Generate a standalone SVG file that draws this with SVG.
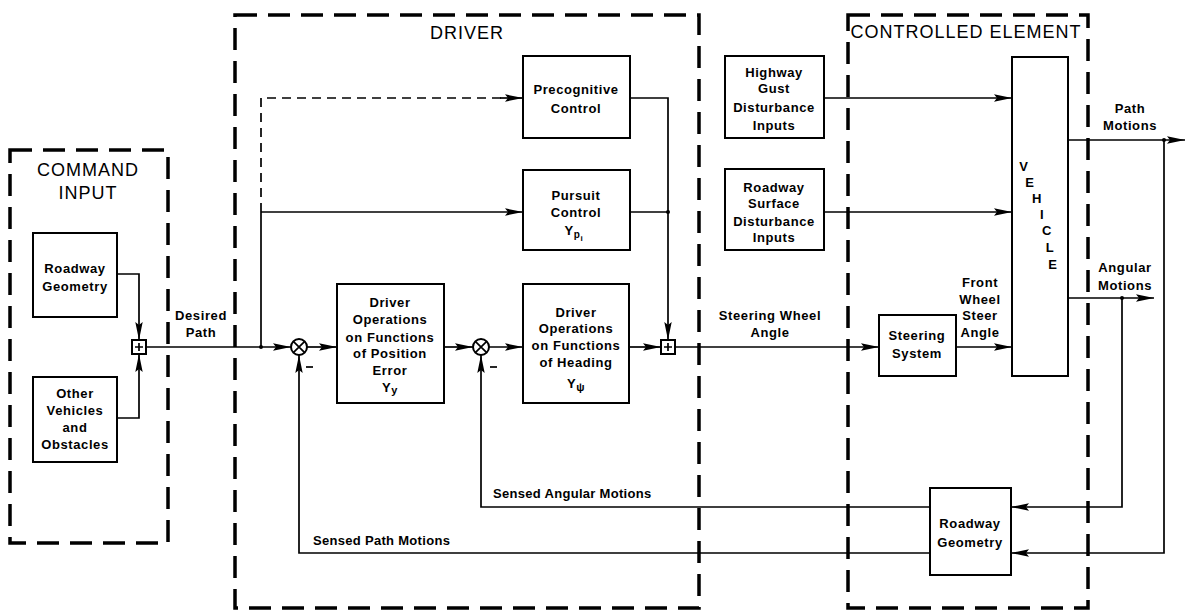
<svg xmlns="http://www.w3.org/2000/svg" width="1186" height="610" viewBox="0 0 1186 610">
<defs>
<marker id="arr" markerUnits="userSpaceOnUse" markerWidth="20" markerHeight="10" refX="18" refY="4.5" orient="auto">
<path d="M0,0.8 L18,4.5 L0,8.2 L3,4.5 z" fill="#000"/>
</marker>
<style>
.bg{fill:#fff}
.box{fill:#fff;stroke:#000;stroke-width:2}
.zone{fill:none;stroke:#000;stroke-width:3.5;stroke-dasharray:22 11}
.ln{fill:none;stroke:#000;stroke-width:1.7}
.dl{fill:none;stroke:#000;stroke-width:1.7;stroke-dasharray:9 6}
.ar{marker-end:url(#arr)}
text{font-family:"Liberation Sans",Arial,sans-serif;font-weight:bold;font-size:13px;letter-spacing:0.6px;fill:#000;text-anchor:middle}
.hd{font-size:18px;font-weight:normal;letter-spacing:1px}
.lt{text-anchor:start;letter-spacing:0.3px}
.dot{fill:#000}
</style>
</defs>
<rect class="bg" x="0" y="0" width="1186" height="610"/>

<g id="zones">
<rect class="zone" x="10" y="150" width="158" height="393"/>
<rect class="zone" x="235" y="15" width="464" height="593"/>
<rect class="zone" x="848" y="15" width="240" height="593"/>
<text class="hd" x="88" y="176">COMMAND</text>
<text class="hd" x="88" y="199">INPUT</text>
<text class="hd" x="467" y="39">DRIVER</text>
<text class="hd" x="966" y="38">CONTROLLED ELEMENT</text>
</g>

<g id="connectors">
<polyline class="ln ar" points="117,274 139,274 139,340"/>
<polyline class="ln ar" points="117,418 139,418 139,354"/>
<line class="ln ar" x1="146" y1="347" x2="291" y2="347"/>
<circle class="dot" cx="261" cy="347" r="2"/>
<polyline class="ln" points="261,347 261,212"/>
<line class="ln ar" x1="261" y1="212" x2="523" y2="212"/>
<polyline class="dl" points="261,212 261,98 505,98"/>
<line class="ln ar" x1="500" y1="98" x2="523" y2="98"/>
<line class="ln ar" x1="307" y1="347" x2="337" y2="347"/>
<line class="ln ar" x1="444" y1="347" x2="473" y2="347"/>
<line class="ln ar" x1="489" y1="347" x2="523" y2="347"/>
<line class="ln ar" x1="629" y1="347" x2="661" y2="347"/>
<polyline class="ln" points="630,98 668,98 668,212"/>
<line class="ln" x1="630" y1="212" x2="668" y2="212"/>
<line class="ln ar" x1="668" y1="212" x2="668" y2="340"/>
<circle class="dot" cx="668" cy="212" r="2"/>
<line class="ln ar" x1="675" y1="347" x2="879" y2="347"/>
<line class="ln ar" x1="956" y1="347" x2="1012" y2="347"/>
<line class="ln ar" x1="824" y1="98" x2="1012" y2="98"/>
<line class="ln ar" x1="824" y1="212" x2="1012" y2="212"/>
<line class="ln ar" x1="1068" y1="140" x2="1185" y2="140"/>
<circle class="dot" cx="1164" cy="140" r="2"/>
<line class="ln ar" x1="1068" y1="298" x2="1154" y2="298"/>
<circle class="dot" cx="1122" cy="298" r="2"/>
<polyline class="ln ar" points="1122,298 1122,507 1011,507"/>
<polyline class="ln ar" points="1164,140 1164,553 1011,553"/>
<polyline class="ln ar" points="930,507 481,507 481,355"/>
<polyline class="ln ar" points="930,553 299,553 299,355"/>
<line class="ln" x1="306" y1="367" x2="313" y2="367"/>
<line class="ln" x1="490" y1="367" x2="497" y2="367"/>
<text class="lt" x="493" y="498">Sensed Angular Motions</text>
<text class="lt" x="313" y="545">Sensed Path Motions</text>
<text x="201" y="320">Desired</text>
<text x="201" y="337">Path</text>
<text x="770" y="320">Steering Wheel</text>
<text x="770" y="337">Angle</text>
<text x="980" y="287">Front</text>
<text x="980" y="304">Wheel</text>
<text x="980" y="320">Steer</text>
<text x="980" y="337">Angle</text>
<text x="1130" y="113">Path</text>
<text x="1130" y="130">Motions</text>
<text x="1125" y="272">Angular</text>
<text x="1125" y="290">Motions</text>
</g>

<g id="sum1">
<rect class="box" x="132" y="340" width="14" height="14"/>
<path class="ln" d="M139,343 V351 M135,347 H143"/>
</g>
<g id="sum2">
<rect class="box" x="661" y="340" width="14" height="14"/>
<path class="ln" d="M668,343 V351 M664,347 H672"/>
</g>
<g id="cmp1">
<circle class="box" cx="299" cy="347" r="8"/>
<path class="ln" d="M293.3,341.3 L304.7,352.7 M304.7,341.3 L293.3,352.7"/>
</g>
<g id="cmp2">
<circle class="box" cx="481" cy="347" r="8"/>
<path class="ln" d="M475.3,341.3 L486.7,352.7 M486.7,341.3 L475.3,352.7"/>
</g>

<g id="roadway-geometry-cmd">
<rect class="box" x="33" y="233" width="84" height="84"/>
<text x="75" y="273">Roadway</text>
<text x="75" y="291">Geometry</text>
</g>
<g id="other-vehicles">
<rect class="box" x="33" y="377" width="84" height="85"/>
<text x="75" y="398">Other</text>
<text x="75" y="415">Vehicles</text>
<text x="75" y="432">and</text>
<text x="75" y="449">Obstacles</text>
</g>
<g id="precognitive">
<rect class="box" x="523" y="56" width="107" height="82"/>
<text x="576" y="94">Precognitive</text>
<text x="576" y="113">Control</text>
</g>
<g id="pursuit">
<rect class="box" x="523" y="170" width="107" height="80"/>
<text x="576" y="200">Pursuit</text>
<text x="576" y="217">Control</text>
<text x="574" y="235">Y<tspan font-size="10" dy="3">p</tspan><tspan font-size="8" dy="3">i</tspan></text>
</g>
<g id="position-error">
<rect class="box" x="337" y="284" width="107" height="119"/>
<text x="390" y="307">Driver</text>
<text x="390" y="324">Operations</text>
<text x="390" y="342">on Functions</text>
<text x="390" y="358">of Position</text>
<text x="390" y="375">Error</text>
<text x="390" y="392">Y<tspan font-size="11" dy="2">y</tspan></text>
</g>
<g id="heading">
<rect class="box" x="523" y="284" width="106" height="119"/>
<text x="576" y="317">Driver</text>
<text x="576" y="333">Operations</text>
<text x="576" y="350">on Functions</text>
<text x="576" y="367">of Heading</text>
<text x="576" y="388">Y<tspan font-size="11" dy="3">ψ</tspan></text>
</g>
<g id="highway-gust">
<rect class="box" x="725" y="56" width="99" height="82"/>
<text x="774" y="77">Highway</text>
<text x="774" y="93">Gust</text>
<text x="774" y="112">Disturbance</text>
<text x="774" y="130">Inputs</text>
</g>
<g id="roadway-surface">
<rect class="box" x="725" y="169" width="99" height="81"/>
<text x="774" y="192">Roadway</text>
<text x="774" y="208">Surface</text>
<text x="774" y="226">Disturbance</text>
<text x="774" y="242">Inputs</text>
</g>
<g id="steering-system">
<rect class="box" x="879" y="315" width="77" height="61"/>
<text x="917" y="340">Steering</text>
<text x="917" y="358">System</text>
</g>
<g id="vehicle">
<rect class="box" x="1012" y="57" width="56" height="319"/>
<text x="1024" y="171">V</text>
<text x="1030" y="187">E</text>
<text x="1037" y="203">H</text>
<text x="1042" y="219">I</text>
<text x="1047" y="235">C</text>
<text x="1050" y="252">L</text>
<text x="1053" y="269">E</text>
</g>
<g id="roadway-geometry-fb">
<rect class="box" x="930" y="488" width="81" height="87"/>
<text x="970" y="528">Roadway</text>
<text x="970" y="547">Geometry</text>
</g>
</svg>
